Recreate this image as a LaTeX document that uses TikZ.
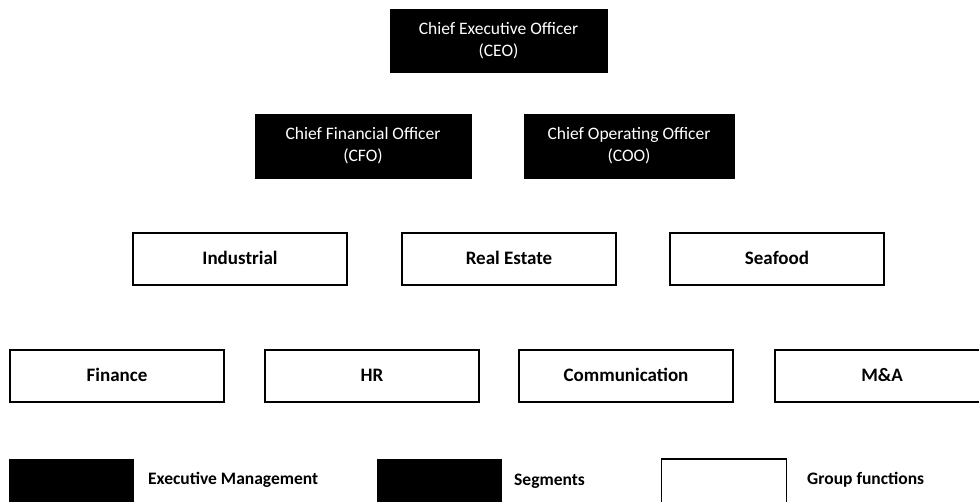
\documentclass[tikz,border=0pt]{standalone}
\usepackage{fontspec}
\setmainfont{Carlito}
\usepackage{tikz}
\usetikzlibrary{positioning}

\begin{document}
\begin{tikzpicture}[
      x=1pt, y=-1pt,
      exec_box/.style={
         rectangle,
         draw=black,
         fill=black,
         text=white,
         align=center,
         inner sep=0pt,
         minimum height=63pt,
         font=\fontsize{17.5}{22}\selectfont},
      seg_box/.style={
         rectangle,
         draw=black,
         fill=white,
         line width=1.6pt,
         inner sep=0pt,
         text height=13pt,
         text depth=3pt,
         minimum width=214pt,
         minimum height=52pt,
         font=\fontsize{19}{21}\selectfont\bfseries},
      legend_box/.style={
         rectangle,
         inner sep=0pt,
         minimum width=125pt,
         minimum height=56pt},
      legend_txt/.style={
         anchor=west,
         inner sep=0pt,
         font=\fontsize{17.5}{19}\selectfont\bfseries}
]
      \useasboundingbox (0,0) rectangle (979,501);
      \clip (0,0) rectangle (979,501);

      %executive management
      \node[exec_box,minimum width=217pt] (ceo) at (498.5,40.5) {Chief Executive Officer\\(CEO)};
      \node[exec_box,minimum width=216pt,minimum height=64pt] (cfo) at (363,146) {Chief Financial Officer\\(CFO)};
      \node[exec_box,minimum width=210pt,minimum height=64pt] (coo) at (629,146) {Chief Operating Officer\\(COO)};

      %segments
      \node[seg_box] (ind) at (240,259) {Industrial};
      \node[seg_box] (real) at (509,259) {Real Estate};
      \node[seg_box] (sea) at (777,259) {Seafood};

      %group functions
      \foreach \n/\x/\txt in {% name/x position/text
        fin/117/Finance,
        hr/372/HR,
        com/626/Communication,
        ma/882/M\&A}
        \node[seg_box] (\n) at (\x,376) {\txt};

      %legend
      \node[legend_box,fill=black] (leg_exec) at (71.5,487) {};
      \node[legend_txt] (leg_exec_txt) at (148,480) {Executive Management};
      \node[legend_box,fill=black] (leg_seg) at (439.5,487) {};
      \node[legend_txt] (leg_seg_txt) at (514,481) {Segments};
      \node[legend_box,draw=black,line width=1.6pt,fill=white] (leg_grp) at (724,487) {};
      \node[legend_txt] (leg_grp_txt) at (807,480) {Group functions};
\end{tikzpicture}
\end{document}
